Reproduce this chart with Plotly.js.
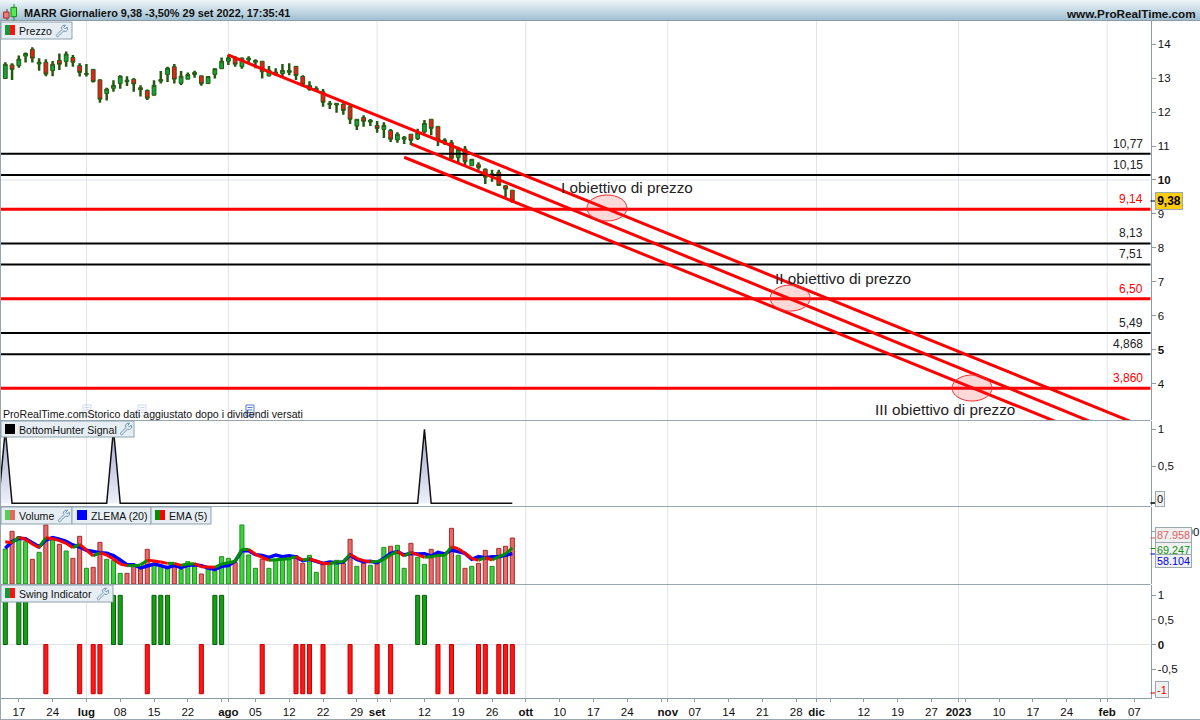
<!DOCTYPE html>
<html><head><meta charset="utf-8">
<script src="https://cdn.plot.ly/plotly-3.0.1.min.js"></script>
<style>html,body{margin:0;padding:0;background:#fff;overflow:hidden}#c{width:1200px;height:720px}</style>
</head><body><div id="c"></div>
<script>
const opens =[12.99,13.39,13.37,13.65,13.85,13.42,13.47,13.22,13.52,13.49,13.61,13.37,13.11,13.26,12.95,12.55,12.70,12.84,12.94,12.97,12.72,12.64,12.50,12.91,13.11,13.34,12.85,12.97,13.11,13.07,12.84,13.11,13.28,13.50,13.59,13.34,13.54,13.47,13.50,13.07,13.12,13.14,13.17,13.35,13.05,12.67,12.65,12.60,12.22,12.21,12.23,12.16,11.59,11.84,11.71,11.61,11.49,11.46,11.18,11.20,11.35,11.22,11.42,11.79,11.58,11.13,11.10,10.66,10.91,10.42,10.45,10.32,10.12,10.23,9.83,9.70];
const highs =[13.47,13.44,13.67,13.76,13.91,13.59,13.56,13.51,13.73,13.79,13.68,13.44,13.42,13.26,12.97,12.72,12.94,13.09,13.06,13.00,12.79,12.67,12.94,13.21,13.34,13.42,13.21,13.17,13.22,13.07,13.05,13.28,13.61,13.69,13.65,13.61,13.65,13.56,13.50,13.36,13.29,13.42,13.44,13.36,13.09,12.91,12.76,12.68,12.33,12.26,12.26,12.21,11.79,11.91,11.80,11.74,11.70,11.50,11.41,11.30,11.35,11.51,11.77,11.79,11.58,11.23,11.18,10.98,11.00,10.62,10.52,10.34,10.30,10.30,9.85,9.70];
const lows  =[12.98,12.95,13.31,13.46,13.46,13.22,13.06,13.06,13.24,13.34,13.34,13.05,13.05,12.87,12.28,12.34,12.60,12.69,12.77,12.60,12.46,12.36,12.48,12.84,12.89,12.84,12.80,12.97,13.01,12.78,12.84,12.99,13.28,13.39,13.34,13.28,13.46,13.29,12.99,13.05,13.07,13.05,13.09,12.95,12.75,12.63,12.60,12.16,12.09,11.98,11.92,11.65,11.47,11.57,11.59,11.39,11.24,11.12,11.10,11.06,11.03,11.18,11.37,11.32,11.00,11.03,10.61,10.51,10.44,10.42,10.30,9.88,9.95,9.83,9.50,9.33];
const closes=[13.41,13.26,13.56,13.73,13.59,13.47,13.12,13.41,13.41,13.71,13.47,13.17,13.14,12.90,12.38,12.68,12.79,13.06,12.90,12.83,12.66,12.41,12.79,12.96,13.30,12.97,13.06,13.11,13.17,12.84,13.05,13.28,13.50,13.60,13.41,13.59,13.59,13.52,13.19,13.24,13.18,13.23,13.23,13.08,12.82,12.79,12.70,12.29,12.26,12.26,12.05,11.79,11.79,11.73,11.76,11.52,11.61,11.20,11.35,11.26,11.17,11.39,11.67,11.52,11.18,11.18,10.64,10.90,10.54,10.61,10.37,10.08,10.18,9.84,9.73,9.38];
const volumes=[67.0,100.8,90.6,81.0,47.2,60.6,112.9,84.2,75.9,63.1,49.1,91.2,30.0,31.9,79.7,47.2,44.6,20.4,20.4,35.1,30.0,66.3,39.5,34.4,30.0,31.9,28.1,42.7,35.1,19.1,30.0,25.5,52.3,49.1,40.8,112.9,55.5,30.0,47.2,30.0,47.2,47.2,47.2,54.2,39.5,54.8,22.3,39.5,40.8,45.3,39.5,85.5,33.8,39.5,35.7,42.1,70.1,72.1,74.0,30.0,77.8,51.0,37.6,66.3,55.5,58.7,106.5,54.8,30.0,33.8,39.5,64.4,33.8,68.2,72.1,87.958];
const ema5=[81.0,79.1,89.3,85.5,76.5,69.5,88.6,86.7,82.9,77.8,69.5,75.9,65.0,53.6,59.9,55.5,47.8,38.3,35.1,35.1,36.3,45.3,44.0,42.1,39.5,39.5,35.7,38.3,38.9,33.2,32.5,31.9,38.3,40.8,43.4,66.3,66.3,56.8,51.0,45.3,46.6,47.2,48.5,52.3,45.9,47.8,44.0,39.5,38.9,42.1,42.1,56.8,49.1,44.6,42.7,42.7,47.2,55.5,62.5,53.6,60.6,56.1,51.0,52.3,54.8,54.8,71.4,67.6,58.7,49.1,45.3,51.0,45.9,52.3,57.4,69.247];
const zlema20=[68.2,81.0,87.4,86.7,79.1,71.4,84.2,88.6,85.5,81.6,74.6,70.8,64.4,61.9,59.9,58.7,54.2,45.9,37.0,37.0,30.6,34.4,38.3,35.1,31.2,35.7,31.2,35.7,37.0,35.1,30.6,28.1,33.8,35.1,44.0,63.8,63.8,56.1,54.8,51.0,55.5,52.3,54.2,51.7,44.6,47.2,43.4,39.5,42.1,40.8,42.1,55.5,47.2,42.7,43.4,40.8,49.1,58.7,61.9,55.5,58.7,57.4,58.0,53.6,60.6,57.4,65.0,61.9,58.7,47.2,52.3,50.4,52.3,52.3,54.8,58.104];
const swing=[1,0,1,1,0,0,-1,0,0,0,0,-1,0,-1,-1,0,1,1,0,0,0,-1,1,1,1,0,0,0,0,-1,0,1,1,0,0,0,0,0,-1,0,0,0,0,-1,-1,-1,0,-1,0,0,0,-1,0,0,0,-1,0,-1,0,0,0,1,1,0,-1,0,-1,0,0,0,-1,-1,0,-1,-1,-1];
const signalX=[-1,0,1,2,3,4,5,6,7,8,9,10,11,12,13,14,15,16,17,18,19,20,21,22,23,24,25,26,27,28,29,30,31,32,33,34,35,36,37,38,39,40,41,42,43,44,45,46,47,48,49,50,51,52,53,54,55,56,57,58,59,60,61,62,63,64,65,66,67,68,69,70,71,72,73,74,75];
const signalY=[0,1,0,0,0,0,0,0,0,0,0,0,0,0,0,0,0,1,0,0,0,0,0,0,0,0,0,0,0,0,0,0,0,0,0,0,0,0,0,0,0,0,0,0,0,0,0,0,0,0,0,0,0,0,0,0,0,0,0,0,0,0,0,1,0,0,0,0,0,0,0,0,0,0,0,0,0];
const levels=[10.77,10.15,9.14,8.13,7.51,6.50,5.49,4.868,3.86];
const levelLabels=['10,77','10,15','9,14','8,13','7,51','6,50','5,49','4,868','3,860'];
const levelIsRed=[false,false,true,false,false,true,false,false,true];
const channel1X=[32.95,168],channel1Y=[13.684,2.76];
const channel2X=[60.1,162],channel2Y=[11.06,2.76];
const channel3X=[59.0,157],channel3Y=[10.67,2.75];
const targetX=[89.0,116.1,143.0],targetY=[9.175,6.52,3.87];
const xTickVals=[2,7,12,17,22,27,32,33,37,42,47,52,55,57,62,67,72,77,82,87,92,97,98,102,107,112,117,120,122,127,132,137,141,142,147,152,157,162,163,167];
const xTickText=['17','24','<b>lug</b>','08','15','22','','<b>ago</b>','05','12','22','29','<b>set</b>','','12','19','26','<b>ott</b>','10','17','24','','<b>nov</b>','07','14','21','28','<b>dic</b>','','12','19','27','<b>2023</b>','','10','17','24','','<b>feb</b>','07'];
const monthStarts=[12,33,55,77,98,120,141,163];

const PW=1200,PH=720,FONT='"Liberation Sans",Arial,sans-serif';
const X=p=>p/PW, Y=p=>1-p/PH;
const idx=[...Array(closes.length).keys()];
const GRID='#dfe3ec',AX='#8c9ca6';
const WICK='#25590f',UP='#12a33a',DN='#f41a1a';

// wicks only outside of the body
const wx=[],wy=[];
idx.forEach(i=>{const t=Math.max(opens[i],closes[i]),b=Math.min(opens[i],closes[i]);
  wx.push(i,i,null,i,i,null);wy.push(highs[i],t,null,b,lows[i],null);});
// EMA split by direction
const eUpY=[],eDnY=[],eX=[];
for(let i=1;i<ema5.length;i++){const up=ema5[i]>=ema5[i-1];
  eX.push(i-1,i,null);
  eUpY.push(up?ema5[i-1]:null,up?ema5[i]:null,null);
  eDnY.push(up?null:ema5[i-1],up?null:ema5[i],null);}

const traces=[];
levels.forEach((v,i)=>traces.push({type:'scatter',mode:'lines',x:[-2,170],y:[v,v],xaxis:'x',yaxis:'y',hoverinfo:'skip',
  line:{color:levelIsRed[i]?'#ff0000':'#000000',width:levelIsRed[i]?3:2}}));
traces.push({type:'candlestick',x:idx,open:opens,close:closes,high:idx.map(i=>Math.max(opens[i],closes[i])),low:idx.map(i=>Math.min(opens[i],closes[i])),
  xaxis:'x',yaxis:'y',hoverinfo:'skip',whiskerwidth:0,
  increasing:{line:{color:WICK,width:1},fillcolor:UP},decreasing:{line:{color:WICK,width:1},fillcolor:DN}});
traces.push({type:'scatter',mode:'lines',x:wx,y:wy,xaxis:'x',yaxis:'y',hoverinfo:'skip',connectgaps:false,line:{color:WICK,width:2.5}});
[[channel1X,channel1Y],[channel2X,channel2Y],[channel3X,channel3Y]].forEach(c=>traces.push({type:'scatter',mode:'lines',x:c[0],y:c[1],xaxis:'x',yaxis:'y',hoverinfo:'skip',line:{color:'#ff0000',width:3}}));
traces.push({type:'scatter',mode:'lines',x:signalX,y:signalY,xaxis:'x',yaxis:'y2',hoverinfo:'skip',fill:'tozeroy',
  fillgradient:{type:'vertical',colorscale:[[0,'#eef0fa'],[1,'#a6a6d0']]},line:{color:'#111111',width:1.5}});
traces.push({type:'bar',x:idx,y:volumes,xaxis:'x',yaxis:'y3',width:0.6,hoverinfo:'skip',
  marker:{color:idx.map(i=>closes[i]>=opens[i]?'#3fcf3f':'#e56c6c'),line:{width:1,color:idx.map(i=>closes[i]>=opens[i]?'#1f8f1f':'#a82a2a')}}});
traces.push({type:'scatter',mode:'lines',x:idx,y:zlema20,xaxis:'x',yaxis:'y3',hoverinfo:'skip',line:{color:'#0000ff',width:3.5}});
traces.push({type:'scatter',mode:'lines',x:eX,y:eUpY,xaxis:'x',yaxis:'y3',hoverinfo:'skip',line:{color:'#009000',width:3}});
traces.push({type:'scatter',mode:'lines',x:eX,y:eDnY,xaxis:'x',yaxis:'y3',hoverinfo:'skip',line:{color:'#ff0000',width:3}});
traces.push({type:'bar',x:idx,y:swing.map(v=>v===0?null:v),xaxis:'x',yaxis:'y4',width:0.6,hoverinfo:'skip',
  marker:{color:swing.map(v=>v>0?'#14a014':'#ff1616'),line:{width:1,color:swing.map(v=>v>0?'#0a600a':'#c40000')}}});

const shapes=[];
function rectPx(x0,y0,x1,y1,fill,line,layer){shapes.push({type:'rect',xref:'paper',yref:'paper',x0:X(x0),x1:X(x1),y0:Y(y0),y1:Y(y1),fillcolor:fill,line:{color:line||fill,width:line?1:0},layer:layer||'above'});}
function linePx(x0,y0,x1,y1,color,w,layer){shapes.push({type:'line',xref:'paper',yref:'paper',x0:X(x0),x1:X(x1),y0:Y(y0),y1:Y(y1),line:{color:color,width:w||1},layer:layer||'above'});}
// vertical month grid
monthStarts.forEach(m=>shapes.push({type:'line',xref:'x',yref:'paper',x0:m,x1:m,y0:Y(698),y1:Y(20),line:{color:GRID,width:1},layer:'below'}));
shapes.push({type:'line',xref:'paper',yref:'y',x0:X(1),x1:X(1150),y0:10,y1:10,line:{color:GRID,width:1},layer:'below'});
shapes.push({type:'line',xref:'paper',yref:'y4',x0:X(1),x1:X(1150),y0:0,y1:0,line:{color:GRID,width:1},layer:'below'});
// target ellipses
targetX.forEach((t,i)=>shapes.push({type:'circle',xref:'x',yref:'y',x0:t-2.96,x1:t+2.96,y0:targetY[i]-0.383,y1:targetY[i]+0.383,fillcolor:'rgba(255,40,40,0.18)',line:{color:'#f03030',width:1},layer:'above'}));
// header gradient
const hdr=['#eef5f9','#eaf2f7','#e6f0f5','#e2edf3','#deeaf1','#dae7ef','#d6e5ed','#d2e2eb','#cedfe9','#cadce7','#c6dae5','#c2d7e3','#bed4e1','#bad1df','#b6cfdd','#b2ccdb','#aec9d9','#aac6d7','#a6c4d5','#a2c1d3'];
hdr.forEach((c,i)=>rectPx(0,i,1200,i+1,c));
linePx(0,20.5,1200,20.5,'#8c9ca6',1);
// panel separators and frame
[420.5,506.5,584.5].forEach(y=>linePx(0,y,1150.5,y,'#98a6af',1));
linePx(0.5,20,0.5,719,'#98a6af',1);
linePx(0,719.5,1200,719.5,'#98a6af',1);
// header logo
linePx(7,27/3,7,60/3,'#7a2a2a',1);rectPx(3.5,36/3,9,54/3,'#f07878','#a03030');
linePx(14,12/3,14,62/3,'#1a8a1a',1);rectPx(11,22/3,16.5,50/3,'#56e856','#1a8a1a');
// wrench helper
const WP=[[0,10.5],[6,4.5],[5.4,2.2],[7,0.4],[9.6,0.2],[7.8,2.4],[9.2,3.9],[11.4,2.2],[11.6,4.8],[9.8,6.6],[7.6,6],[1.6,12]];
function wrench(x,y){shapes.push({type:'path',xref:'paper',yref:'paper',layer:'above',fillcolor:'rgba(0,0,0,0)',line:{color:'#6d93b0',width:1},
  path:WP.map((p,i)=>(i?'L':'M')+X(x+p[0]).toFixed(5)+','+Y(y+p[1]).toFixed(5)).join(' ')+' Z'});}
function box(x0,y0,x1,y1){rectPx(x0,y0,x1,y1,'#e6eef3','#8ea2af');}
function sw2(x,y,a,b){rectPx(x,y,x+5,y+10,a);rectPx(x+5,y,x+10,y+10,b);}
box(1,22,72,39);sw2(5,25,'#109a3a','#ff1010');wrench(56,25);
box(1,421,134,437);rectPx(5,424,15,434,'#000');wrench(120,423);
box(1,507,72,524);sw2(5,510,'#55d055','#e06a60');wrench(58,510);
box(72,507,151,524);rectPx(77,510,87,520,'#0000ff');
box(151,507,211,524);sw2(155,510,'#009000','#ff0000');
box(1,585,113,602);sw2(5,588,'#109a3a','#ff1010');wrench(97,588);
// dividend doc icons
[[83,0.25],[138,0.25],[246,0.9]].forEach(d=>{
  shapes.push({type:'rect',xref:'paper',yref:'paper',x0:X(d[0]),x1:X(d[0]+8),y0:Y(405),y1:Y(416),fillcolor:'#ffffff',line:{color:'#3f6fc8',width:1},opacity:d[1],layer:'above'});
  [407.5,410,412.5].forEach(y=>shapes.push({type:'line',xref:'paper',yref:'paper',x0:X(d[0]+1.5),x1:X(d[0]+6.5),y0:Y(y),y1:Y(y),line:{color:'#3f6fc8',width:1},opacity:d[1],layer:'above'}));
});
// marker ticks on the price scale
linePx(1150.5,201,1155,201,'#000',1);linePx(1150.5,503,1155,503,'#000',1.5);
linePx(1150.5,538,1155,538,'#e05050',1);linePx(1150.5,548.5,1155,548.5,'#109010',1);linePx(1150.5,554,1155,554,'#0000e0',1);
linePx(1150.5,693,1155,693,'#e00000',1);

const ann=[];
function txt(x,y,t,size,color,opt){ann.push(Object.assign({xref:'paper',yref:'paper',x:X(x),y:Y(y),text:t,showarrow:false,xanchor:'left',yanchor:'middle',font:{family:FONT,size:size||11,color:color||'#111'},borderpad:0},opt||{}));}
txt(23,13,'<b>MARR Giornaliero 9,38 -3,50% 29 set 2022, 17:35:41</b>',10.9,'#111');
txt(1197,13,'<b>www.ProRealTime.com</b>',11.7,'#111',{xanchor:'right'});
txt(17.5,31,'Prezzo',10.6);txt(17.5,429.5,'BottomHunter Signal',10.6);txt(17.5,516,'Volume',10.6);txt(89.5,516,'ZLEMA (20)',10.6);txt(167.5,516,'EMA (5)',10.6);txt(17.5,594,'Swing Indicator',10.6);
txt(1.5,414,'ProRealTime.comStorico dati aggiustato dopo i dividendi versati',10.6,'#111');
txt(627,188,'I obiettivo di prezzo',15.3,'#222',{xanchor:'center'});
txt(843,278,'II obiettivo di prezzo',15.3,'#222',{xanchor:'center'});
txt(945,409,'III obiettivo di prezzo',15.3,'#222',{xanchor:'center'});
levels.forEach((v,i)=>ann.push({xref:'paper',yref:'y',x:X(1144.5),y:v,yshift:10,text:levelLabels[i],showarrow:false,xanchor:'right',yanchor:'middle',font:{family:FONT,size:12,color:levelIsRed[i]?'#ff0000':'#222'}}));
function tag(xc,yc,w,h,t,color,bg,size,bold){ann.push({xref:'paper',yref:'paper',x:X(xc),y:Y(yc),text:bold?'<b>'+t+'</b>':t,showarrow:false,xanchor:'center',yanchor:'middle',width:w,height:h,align:'center',valign:'middle',bgcolor:bg,bordercolor:'#9aa8b0',borderwidth:1,borderpad:0,font:{family:FONT,size:size,color:color}});}
tag(1169,201,26,16,'9,38','#000','#ffcc11',12,true);
tag(1160,498.5,8,14,'0','#111','#f0f0f0',11,false);
tag(1173.5,535,35,14,'87.958','#e06060','#f0f0f0',10.8,false);
tag(1173.5,549.5,35,14,'69.247','#109010','#f0f0f0',10.8,false);
tag(1173.5,560.7,35,12,'58.104','#0000e0','#f0f0f0',10.8,false);
tag(1162,689,12,15,'-1','#e00000','#f0f0f0',11,false);

function yax(domT,domB,range,vals,text){return {domain:[Y(domB),Y(domT)],range:range,anchor:'x',side:'right',showgrid:false,zeroline:false,
  tickmode:'array',tickvals:vals,ticktext:text,ticks:'outside',ticklen:4,tickcolor:AX,tickwidth:1,showline:true,linecolor:AX,linewidth:1,tickfont:{family:FONT,size:11.5,color:'#111'},fixedrange:true};}
const layout={width:PW,height:PH,margin:{l:0,r:0,t:0,b:0,autoexpand:false},paper_bgcolor:'#fff',plot_bgcolor:'rgba(0,0,0,0)',showlegend:false,
  barmode:'overlay',boxgap:0.2,font:{family:FONT,size:11,color:'#111'},
  xaxis:{domain:[X(1),X(1150.5)],range:[-0.636,169.4],anchor:'y4',side:'bottom',showgrid:false,zeroline:false,rangeslider:{visible:false},
    tickmode:'array',tickvals:xTickVals,ticktext:xTickText,tickangle:0,ticks:'outside',ticklen:3,tickcolor:AX,showline:true,linecolor:AX,linewidth:1,tickfont:{family:FONT,size:11.5,color:'#111'},fixedrange:true},
  yaxis:yax(20,420,[2.927,14.715],[4,5,6,7,8,9,10,11,12,13,14],['4','<b>5</b>','6','7','8','9','<b>10</b>','11','12','13','14']),
  yaxis2:yax(421,505.5,[-0.03,1.112],[0.5,1],['0,5','1']),
  yaxis3:yax(507,584,[0,147.3],[100],['100.000']),
  yaxis4:yax(585,698,[-1.087,1.21],[-0.5,0,0.5,1],['-0,5','<b>0</b>','0,5','1']),
  shapes:shapes,annotations:ann};
Plotly.newPlot('c',traces,layout,{displayModeBar:false,responsive:false});
</script></body></html>
